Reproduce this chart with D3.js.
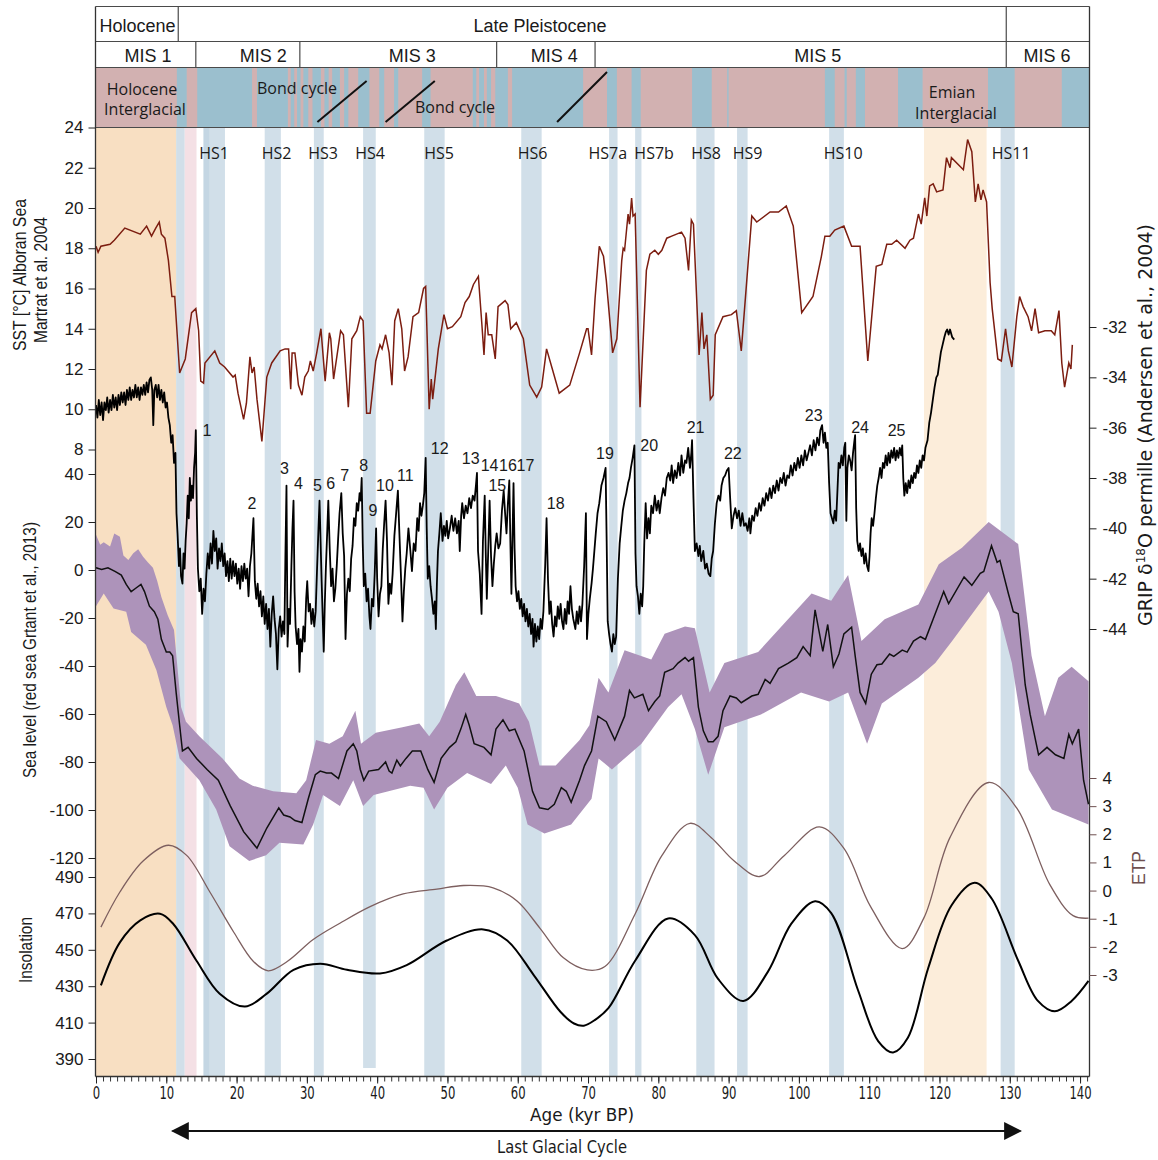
<!DOCTYPE html>
<html>
<head>
<meta charset="utf-8">
<script src="https://cdn.jsdelivr.net/npm/d3@7/dist/d3.min.js"></script>
<style>
  body { margin: 0; background: #fff; }
  svg text { font-family: "Liberation Sans", Arial, sans-serif; fill: #1a1a1a; }
</style>
</head>
<body>
<div id="chart"></div>
<script>
// ---------- data (age in kyr BP) ----------
var epochs = [["Holocene", 0, 11.7], ["Late Pleistocene", 11.7, 129.5], ["", 129.5, 141.3]];
var misStages = [["MIS 1", 0, 14.2, 7.4], ["MIS 2", 14.2, 29, 23.8], ["MIS 3", 29, 57, 45],
  ["MIS 4", 57, 71, 65.2], ["MIS 5", 71, 129.5, 102.7], ["MIS 6", 129.5, 141.3, 135.3]];

// warm (pink) intervals of the top strip, cold background is blue
var stripWarm = [[0, 11.5], [12.9, 14.4], [22.2, 22.9], [27.3, 27.7], [28.2, 28.6], [29.1, 29.5],
  [30.2, 30.8], [32.0, 32.5], [33.1, 33.6], [34.7, 35.3], [35.9, 37.3], [38.9, 40.3], [41.0, 42.4],
  [43.0, 46.4], [47.6, 53.6], [54.1, 54.5], [55.2, 55.6], [56.2, 56.8], [58.6, 59.2], [69.3, 72.7],
  [74.1, 76.2], [77.5, 84.8], [87.6, 89.8], [90.0, 103.7], [105.1, 106.5], [106.8, 108.1],
  [109.4, 114.1], [117.6, 126.9], [130.7, 137.4]];
var bondSlashes = [[31.5, 38.5, 81], [41.2, 48.2, 81], [65.6, 72.7, 72]];

var interglacials = [[0, 11.4, "#f8dfc2"], [117.8, 126.7, "#fcedda"]];
var heinrichBands = [[11.4, 12.6], [15.3, 18.35], [15.3, 16.1], [24.0, 26.3], [31.0, 32.4],
  [38.0, 39.8], [46.7, 49.6], [60.5, 63.4], [73.0, 74.2], [76.7, 77.6], [85.4, 88.0],
  [91.2, 92.7], [104.3, 106.4], [128.7, 130.7]];
var warmBand = [[12.6, 14.3]];
var hsLabels = [["HS1", 16.8], ["HS2", 25.7], ["HS3", 32.3], ["HS4", 39.0], ["HS5", 48.8],
  ["HS6", 62.1], ["HS7a", 72.8], ["HS7b", 79.4], ["HS8", 86.8], ["HS9", 92.7], ["HS10", 106.3],
  ["HS11", 130.2]];
var disLabels = [["1", 15.8, -36.1], ["2", 22.2, -39.0], ["3", 26.8, -37.6], ["4", 28.8, -38.2],
  ["5", 31.5, -38.3], ["6", 33.4, -38.2], ["7", 35.4, -37.9], ["8", 38.1, -37.5], ["9", 39.4, -39.3],
  ["10", 41.1, -38.3], ["11", 44.0, -37.9], ["12", 48.9, -36.8], ["13", 53.3, -37.2], ["14", 56.0, -37.5],
  ["15", 57.1, -38.3], ["16", 58.6, -37.5], ["17", 61.1, -37.5], ["18", 65.4, -39.0], ["19", 72.4, -37.0],
  ["20", 78.7, -36.7], ["21", 85.3, -36.0], ["22", 90.6, -37.0], ["23", 102.1, -35.5], ["24", 108.7, -36.0],
  ["25", 113.9, -36.1]];

// Alboran Sea SST (deg C)
var sst = [[0,18.1],[0.3,17.8],[0.7,18.1],[2.0,18.2],[2.6,18.4],[4.1,19.0],[6.3,18.7],[7.2,19.1],[7.9,18.6],
  [8.5,19.0],[9.0,19.3],[9.3,18.7],[9.8,18.5],[10.3,17.4],[10.8,15.6],[11.2,15.6],[11.9,11.8],[12.7,12.5],
  [13.6,14.8],[14.2,15.0],[14.6,13.9],[14.9,11.4],[15.3,11.3],[15.5,12.3],[16.9,12.9],[17.6,12.3],[18.3,12.1],
  [19.5,11.6],[19.8,11.7],[20.2,10.8],[21.0,9.5],[21.4,10.3],[21.9,12.6],[22.2,11.8],[22.5,12.1],[22.9,10.5],
  [23.6,8.4],[24.3,11.6],[25.0,12.3],[26.2,12.9],[26.9,13.0],[27.4,13.0],[27.7,11.0],[27.9,12.8],[28.3,12.8],
  [28.8,11.2],[29.3,10.7],[29.7,11.6],[30.2,11.9],[30.5,12.4],[30.9,11.9],[31.4,12.8],[32.0,14.0],[32.6,11.4],
  [33.2,13.8],[33.4,13.5],[33.8,11.5],[34.8,13.9],[35.2,13.7],[35.9,10.1],[36.4,13.5],[37.1,13.9],[37.6,14.6],
  [38.0,14.4],[38.5,9.8],[39.0,9.8],[39.8,12.4],[40.4,13.2],[40.7,13.0],[41.2,13.7],[41.7,12.8],[42.1,11.2],
  [42.5,14.4],[43.0,15.0],[43.5,14.0],[43.9,11.9],[44.4,12.6],[45.1,14.6],[45.9,14.8],[46.6,16.0],[46.9,16.1],
  [47.1,13.7],[47.4,10.0],[47.7,11.5],[47.9,10.5],[48.7,13.0],[49.5,14.7],[50.0,14.0],[50.7,14.1],[51.9,14.6],
  [52.5,15.3],[53.1,15.6],[53.7,16.2],[54.4,16.6],[54.9,14.2],[55.2,12.7],[55.5,14.8],[55.8,13.7],[56.3,13.7],
  [56.8,12.5],[57.2,15.1],[58.2,15.4],[58.6,15.2],[59.0,14.0],[59.8,14.3],[60.8,13.5],[61.7,11.2],[62.7,10.6],
  [63.4,11.1],[64.1,13.0],[65.0,11.9],[65.9,10.8],[67.4,11.2],[68.8,12.8],[69.8,14.0],[70.0,14.0],[70.5,12.7],
  [71.0,15.5],[71.6,18.1],[72.2,17.6],[72.6,16.4],[73.5,12.8],[74.1,13.5],[74.8,17.4],[75.0,18.0],[75.2,17.9],
  [75.7,19.7],[75.9,19.2],[76.2,20.5],[76.4,19.6],[76.7,19.7],[77.4,10.1],[78.3,16.9],[78.8,17.7],[79.5,17.9],
  [80.0,17.7],[80.5,17.9],[81.2,18.5],[81.9,18.6],[83.3,18.8],[83.8,18.5],[84.3,16.9],[84.7,19.4],[85.0,19.2],
  [85.8,12.7],[86.2,14.8],[86.5,13.0],[86.9,13.7],[87.4,10.5],[87.8,10.7],[88.1,13.7],[89.2,14.6],[90.4,14.7],
  [91.1,14.9],[91.8,12.9],[93.3,19.6],[94.0,19.3],[95.9,19.8],[97.1,19.8],[98.2,20.1],[99.2,19.1],[100.4,14.8],
  [102.0,15.6],[103.2,17.6],[103.7,18.6],[104.4,18.6],[105.1,18.9],[106.4,19.1],[107.5,18.1],[108.7,18.1],
  [109.8,12.4],[111.0,17.1],[111.8,17.2],[112.5,18.2],[113.2,18.2],[113.9,18.4],[115.1,18.0],[115.8,18.4],
  [116.3,18.5],[117.0,19.7],[117.4,19.2],[117.9,20.5],[118.2,19.6],[118.6,21.1],[119.1,21.2],[119.6,20.8],
  [120.5,20.9],[121.0,22.5],[121.5,22.0],[121.7,22.5],[123.4,21.9],[124.0,23.4],[124.6,22.8],[125.1,20.3],
  [125.5,21.2],[125.9,20.4],[126.2,20.9],[126.7,20.3],[127.2,16.3],[127.5,15.0],[128.3,12.5],[128.8,12.4],
  [129.4,14.0],[129.8,12.9],[130.3,12.1],[131.0,14.6],[131.4,15.6],[131.9,15.1],[132.6,14.6],[133.1,13.9],
  [133.6,15.0],[134.1,13.8],[135.0,13.9],[135.9,13.9],[136.4,13.7],[137.0,14.9],[137.4,12.3],[137.8,11.1],
  [138.4,12.3],[138.7,12.0],[138.9,13.2]];

// GRIP d18O (permille)
var grip = [[0,-35.1],[0.2,-35.6],[0.4,-34.9],[0.6,-35.5],[0.8,-35.0],[1.0,-35.7],[1.2,-35.0],[1.4,-35.3],
  [1.6,-34.8],[1.8,-35.4],[2.0,-34.9],[2.2,-35.3],[2.4,-34.7],[2.6,-35.2],[2.8,-34.8],[3.0,-35.3],[3.2,-34.7],
  [3.4,-35.1],[3.6,-34.6],[3.8,-35.0],[4.0,-34.6],[4.2,-35.1],[4.4,-34.5],[4.6,-34.9],[4.8,-34.4],[5.0,-34.9],
  [5.2,-34.5],[5.4,-34.8],[5.6,-34.3],[5.8,-34.8],[6.0,-34.4],[6.2,-34.9],[6.4,-34.4],[6.6,-34.7],[6.8,-34.3],
  [7.0,-34.7],[7.2,-34.2],[7.4,-34.6],[7.6,-34.1],[7.8,-34.0],[8.0,-34.5],[8.15,-35.9],[8.3,-34.5],[8.5,-34.3],
  [8.7,-34.8],[8.9,-34.3],[9.1,-34.9],[9.3,-34.5],[9.5,-35.0],[9.7,-34.6],[9.9,-35.2],[10.1,-35.0],[10.3,-35.6],
  [10.5,-35.9],[10.7,-36.6],[10.9,-36.3],[11.1,-37.4],[11.3,-37.0],[11.45,-39.4],[11.6,-40.2],[11.8,-41.5],
  [11.95,-40.8],[12.1,-41.9],[12.3,-42.2],[12.45,-41.0],[12.6,-41.6],[12.75,-40.5],[12.9,-39.8],[13.05,-38.7],
  [13.2,-39.6],[13.35,-38.0],[13.5,-38.9],[13.65,-38.3],[13.8,-38.8],[13.95,-37.6],[14.1,-37.0],[14.2,-36.1],
  [14.35,-39.5],[14.5,-41.6],[14.7,-42.5],[14.9,-42.0],[15.1,-43.4],[15.3,-42.4],[15.5,-42.9],[15.7,-41.8],
  [15.9,-41.0],[16.1,-41.6],[16.3,-40.6],[16.5,-41.4],[16.7,-40.1],[16.9,-40.9],[17.1,-40.4],[17.3,-41.6],
  [17.5,-40.8],[17.7,-41.3],[17.9,-40.6],[18.1,-41.5],[18.3,-41.0],[18.5,-41.9],[18.7,-41.3],[18.9,-42.1],
  [19.1,-41.2],[19.3,-42.0],[19.5,-41.3],[19.7,-41.9],[19.9,-41.4],[20.1,-42.2],[20.3,-41.6],[20.5,-42.4],
  [20.7,-41.5],[20.9,-42.1],[21.1,-41.4],[21.3,-42.0],[21.5,-41.6],[21.7,-42.7],[21.9,-41.5],[22.1,-41.0],
  [22.4,-39.6],[22.6,-42.1],[22.8,-42.8],[23.0,-42.2],[23.2,-43.1],[23.4,-42.5],[23.6,-43.5],[23.8,-42.7],
  [24.0,-43.8],[24.2,-43.0],[24.4,-44.0],[24.6,-43.2],[24.8,-44.7],[25.0,-43.4],[25.2,-42.7],[25.4,-43.6],
  [25.6,-44.2],[25.8,-45.6],[26.0,-44.0],[26.2,-43.5],[26.4,-44.3],[26.6,-43.7],[26.8,-44.2],[26.95,-41.0],
  [27.1,-38.3],[27.25,-44.7],[27.45,-43.2],[27.6,-43.8],[27.8,-41.5],[27.95,-40.0],[28.1,-38.9],[28.25,-42.5],
  [28.4,-43.9],[28.6,-44.6],[28.8,-44.0],[28.95,-45.7],[29.1,-44.4],[29.3,-44.9],[29.5,-43.9],[29.7,-44.5],
  [29.9,-42.8],[30.05,-42.1],[30.25,-43.3],[30.45,-43.0],[30.65,-43.8],[30.85,-43.2],[31.05,-43.9],[31.25,-43.3],
  [31.45,-41.6],[31.65,-40.0],[31.8,-38.9],[31.95,-40.5],[32.1,-42.1],[32.25,-43.5],[32.4,-44.9],[32.55,-43.0],
  [32.7,-41.6],[32.9,-40.1],[33.05,-38.9],[33.25,-40.8],[33.45,-42.3],[33.65,-41.6],[33.85,-42.9],[34.05,-42.4],
  [34.25,-41.5],[34.45,-40.4],[34.65,-39.4],[34.9,-38.6],[35.1,-40.2],[35.3,-41.1],[35.5,-44.4],[35.7,-42.6],
  [35.9,-42.0],[36.1,-42.5],[36.3,-41.2],[36.5,-40.7],[36.7,-39.6],[36.9,-39.9],[37.1,-39.0],[37.3,-39.3],
  [37.5,-38.6],[37.65,-38.9],[37.8,-38.0],[37.95,-40.6],[38.1,-42.3],[38.3,-41.8],[38.5,-42.9],[38.7,-42.4],
  [38.9,-43.5],[39.05,-44.0],[39.25,-42.8],[39.45,-43.1],[39.65,-41.8],[39.85,-40.0],[40.0,-42.0],[40.2,-43.5],
  [40.4,-42.6],[40.6,-42.3],[40.8,-40.8],[41.0,-39.8],[41.2,-38.9],[41.4,-40.5],[41.6,-43.0],[41.8,-42.2],
  [42.0,-42.6],[42.2,-41.8],[42.45,-40.3],[42.7,-39.4],[42.95,-38.5],[43.15,-40.1],[43.4,-42.0],[43.6,-43.7],
  [43.8,-42.5],[44.0,-41.6],[44.2,-41.0],[44.45,-40.0],[44.7,-40.8],[44.95,-41.7],[45.2,-40.6],[45.45,-40.9],
  [45.7,-39.6],[45.9,-40.1],[46.1,-39.0],[46.3,-39.5],[46.5,-39.1],[46.7,-38.6],[46.9,-37.2],[47.05,-40.0],
  [47.2,-42.0],[47.4,-41.5],[47.6,-42.3],[47.8,-42.8],[48.0,-43.4],[48.2,-42.9],[48.35,-44.0],[48.5,-42.2],
  [48.65,-40.9],[48.85,-40.2],[49.05,-39.4],[49.3,-40.5],[49.5,-39.9],[49.7,-40.3],[49.9,-39.7],[50.1,-40.4],
  [50.35,-40.0],[50.6,-39.5],[50.85,-40.1],[51.1,-39.6],[51.35,-40.2],[51.6,-39.7],[51.75,-40.9],[51.95,-39.5],
  [52.1,-39.0],[52.35,-39.6],[52.6,-39.1],[52.85,-39.4],[53.1,-38.8],[53.35,-39.2],[53.6,-38.7],[53.85,-38.9],
  [54.05,-38.3],[54.2,-37.8],[54.35,-40.9],[54.6,-41.8],[54.85,-43.4],[55.05,-40.5],[55.3,-38.7],[55.45,-41.0],
  [55.6,-42.8],[55.8,-40.9],[56.0,-38.9],[56.2,-41.1],[56.4,-42.3],[56.6,-41.4],[56.8,-40.7],[57.0,-40.2],
  [57.25,-40.8],[57.5,-40.6],[57.75,-39.3],[58.0,-38.5],[58.2,-39.4],[58.4,-40.2],[58.6,-39.0],[58.8,-38.1],
  [58.95,-40.5],[59.1,-42.6],[59.25,-40.4],[59.4,-38.2],[59.55,-40.8],[59.7,-42.3],[59.9,-42.9],[60.1,-42.5],
  [60.3,-43.2],[60.5,-42.8],[60.7,-43.5],[60.9,-43.0],[61.1,-43.7],[61.3,-43.2],[61.5,-43.9],[61.7,-43.4],
  [61.9,-44.2],[62.1,-43.6],[62.25,-44.7],[62.45,-43.8],[62.65,-44.5],[62.85,-43.9],[63.05,-44.4],[63.25,-43.6],
  [63.45,-44.0],[63.65,-43.3],[63.9,-41.5],[64.1,-39.6],[64.3,-42.0],[64.5,-43.4],[64.7,-42.9],[64.9,-43.8],
  [65.1,-44.3],[65.3,-43.5],[65.5,-43.9],[65.7,-43.1],[65.9,-43.6],[66.1,-43.0],[66.3,-43.7],[66.5,-44.0],
  [66.7,-43.2],[66.9,-43.8],[67.1,-42.9],[67.3,-43.4],[67.5,-42.3],[67.7,-43.2],[67.9,-43.6],[68.2,-44.0],
  [68.4,-43.3],[68.6,-43.8],[68.8,-43.1],[69.0,-43.7],[69.2,-43.0],[69.45,-41.5],[69.7,-39.4],[69.85,-44.4],
  [70.05,-43.4],[70.25,-42.8],[70.5,-42.2],[70.7,-41.6],[70.9,-40.9],[71.1,-40.2],[71.35,-39.4],[71.6,-39.0],
  [71.9,-38.3],[72.2,-38.0],[72.5,-37.6],[72.65,-40.5],[72.8,-43.7],[73.0,-44.2],[73.2,-44.6],[73.4,-44.9],
  [73.6,-44.2],[73.8,-44.6],[74.0,-44.3],[74.25,-42.0],[74.5,-40.6],[74.7,-40.0],[74.95,-39.3],[75.2,-38.9],
  [75.45,-38.6],[75.7,-38.2],[75.9,-38.0],[76.1,-37.6],[76.35,-37.2],[76.6,-36.7],[76.75,-41.0],[76.9,-42.3],
  [77.1,-42.7],[77.3,-43.4],[77.5,-42.6],[77.7,-43.1],[77.85,-42.3],[78.0,-40.6],[78.2,-39.0],[78.4,-40.4],
  [78.6,-39.6],[78.8,-40.2],[79.0,-39.1],[79.25,-39.4],[79.5,-38.7],[79.75,-39.3],[80.0,-38.9],[80.2,-39.4],
  [80.45,-38.8],[80.7,-38.4],[80.95,-38.7],[81.2,-38.0],[81.45,-37.8],[81.7,-38.1],[81.9,-37.5],[82.1,-38.2],
  [82.35,-37.7],[82.6,-38.0],[82.85,-37.4],[83.1,-37.9],[83.3,-37.1],[83.55,-37.8],[83.8,-37.3],[84.0,-37.4],
  [84.25,-36.8],[84.5,-37.6],[84.7,-37.0],[84.8,-36.5],[85.0,-38.8],[85.2,-40.9],[85.45,-40.6],[85.7,-41.1],
  [85.9,-40.7],[86.1,-41.3],[86.4,-40.9],[86.65,-41.6],[86.9,-41.4],[87.15,-41.8],[87.4,-41.9],[87.6,-41.2],
  [87.8,-40.9],[88.05,-39.8],[88.3,-39.0],[88.55,-38.7],[88.8,-38.9],[89.0,-38.3],[89.25,-38.0],[89.5,-37.9],
  [89.75,-37.7],[90.0,-37.6],[90.2,-38.7],[90.45,-40.0],[90.7,-39.5],[90.95,-39.2],[91.2,-39.6],[91.45,-39.3],
  [91.7,-39.9],[91.95,-39.4],[92.2,-39.9],[92.45,-39.8],[92.7,-40.1],[92.95,-39.6],[93.1,-40.2],[93.35,-39.5],
  [93.6,-39.7],[93.85,-39.2],[94.1,-39.5],[94.35,-39.0],[94.6,-39.3],[94.85,-38.8],[95.1,-39.1],[95.35,-38.6],
  [95.6,-38.9],[95.85,-38.4],[96.1,-38.8],[96.35,-38.3],[96.6,-38.6],[96.85,-38.1],[97.1,-38.5],[97.35,-38.0],
  [97.6,-38.2],[97.85,-37.8],[98.1,-38.3],[98.35,-37.9],[98.6,-38.0],[98.85,-37.5],[99.1,-37.9],[99.35,-37.4],
  [99.6,-37.7],[99.85,-37.2],[100.1,-37.6],[100.35,-37.1],[100.6,-37.5],[100.85,-36.9],[101.1,-37.3],
  [101.35,-37.0],[101.6,-36.7],[101.85,-37.1],[102.1,-36.5],[102.35,-36.9],[102.6,-36.4],[102.85,-36.7],
  [103.05,-36.1],[103.3,-35.9],[103.5,-36.6],[103.7,-36.2],[103.9,-36.8],[104.1,-36.6],[104.3,-38.2],
  [104.5,-39.4],[104.7,-39.6],[104.9,-39.8],[105.1,-39.3],[105.3,-39.7],[105.5,-38.4],[105.65,-37.4],
  [105.85,-37.6],[106.05,-37.1],[106.25,-37.5],[106.45,-36.8],[106.6,-36.6],[106.75,-39.7],[106.9,-37.6],
  [107.1,-37.1],[107.3,-37.3],[107.5,-37.7],[107.7,-37.0],[107.9,-36.5],[108.0,-36.3],[108.15,-39.2],
  [108.3,-40.5],[108.5,-40.9],[108.7,-40.6],[108.9,-41.1],[109.1,-40.8],[109.3,-41.4],[109.5,-41.0],
  [109.7,-41.5],[109.9,-41.7],[110.05,-41.1],[110.2,-40.2],[110.35,-39.6],[110.55,-39.9],[110.75,-39.4],
  [110.95,-38.8],[111.15,-38.3],[111.35,-38.0],[111.55,-37.6],[111.75,-38.0],[111.95,-37.4],[112.15,-37.6],
  [112.35,-37.1],[112.55,-37.5],[112.75,-37.0],[112.95,-37.4],[113.15,-36.9],[113.35,-37.2],[113.55,-36.8],
  [113.75,-37.3],[113.95,-36.9],[114.15,-37.2],[114.35,-36.8],[114.55,-37.1],[114.7,-36.7],[114.85,-38.0],
  [115.0,-38.7],[115.2,-38.2],[115.4,-38.6],[115.6,-38.1],[115.8,-38.4],[116.0,-37.9],[116.2,-38.2],
  [116.4,-37.8],[116.6,-38.0],[116.8,-37.5],[117.0,-37.8],[117.2,-37.3],[117.4,-37.6],[117.6,-37.1],
  [117.8,-37.3],[118.0,-36.8],[118.3,-36.5],[118.55,-35.8],[118.8,-35.4],[119.05,-34.9],[119.3,-34.4],
  [119.55,-34.0],[119.75,-33.9],[120.0,-33.4],[120.2,-33.0],[120.45,-32.7],[120.7,-32.4],[120.9,-32.2],
  [121.1,-32.1],[121.3,-32.3],[121.5,-32.1],[121.8,-32.4],[122.1,-32.5]];

// Red Sea relative sea level (m): mean, upper and lower bounds
var seaMean = [[0,0.9],[0.8,0.2],[1.7,0.9],[2.7,-0.6],[3.6,-2.1],[4.3,-6.0],[5.0,-9.0],[5.7,-7.5],[6.4,-6.0],
  [6.9,-9.0],[7.6,-15.1],[8.3,-17.4],[8.8,-20.5],[9.3,-28.9],[10.0,-34.2],[10.5,-34.2],[10.9,-35.7],[11.4,-51.0],
  [11.9,-64.7],[12.3,-75.4],[13.1,-73.9],[14.3,-78.5],[15.8,-83.1],[17.4,-87.6],[19.1,-98.3],[21.0,-109.0],
  [22.9,-115.9],[24.3,-107.5],[26.0,-99.1],[26.7,-102.1],[27.6,-102.9],[28.3,-104.4],[29.3,-105.2],[30.2,-95.3],
  [31.2,-85.3],[31.9,-83.8],[32.8,-84.6],[33.5,-84.6],[34.5,-86.9],[35.7,-75.4],[36.6,-72.4],[37.1,-75.4],
  [37.6,-83.1],[38.1,-87.6],[38.8,-83.8],[40.2,-83.1],[41.2,-80.0],[41.7,-83.8],[42.1,-84.6],[42.8,-79.2],
  [43.3,-81.6],[44.1,-78.5],[45.0,-75.4],[46.2,-75.4],[47.2,-83.1],[48.1,-88.5],[49.1,-78.5],[50.3,-73.9],
  [51.2,-71.6],[51.9,-66.3],[52.6,-60.2],[53.1,-64.7],[53.8,-72.4],[55.2,-73.9],[56.2,-77.0],[56.9,-66.3],
  [57.9,-62.4],[58.8,-67.0],[59.6,-66.3],[60.9,-75.4],[62.1,-92.2],[63.1,-99.1],[64.3,-99.8],[65.2,-97.6],
  [66.2,-90.7],[66.9,-92.2],[67.6,-96.8],[68.8,-87.6],[69.5,-81.5],[70.5,-75.4],[71.4,-60.9],[72.6,-63.2],
  [73.8,-70.8],[75.2,-60.9],[75.9,-50.2],[76.6,-53.3],[77.8,-51.8],[78.6,-58.6],[79.5,-54.8],[80.2,-52.5],
  [80.9,-42.6],[82.1,-41.1],[82.8,-38.8],[83.8,-36.5],[84.3,-38.0],[85.0,-36.5],[85.7,-57.1],[86.4,-67.0],
  [87.1,-71.6],[87.8,-71.6],[88.5,-69.3],[89.2,-58.6],[90.2,-52.5],[91.1,-53.3],[91.8,-55.3],[93.3,-52.5],
  [94.2,-51.8],[95.2,-45.6],[95.9,-47.2],[97.1,-41.1],[98.5,-38.8],[99.7,-36.5],[100.6,-31.9],[101.6,-35.7],
  [102.3,-16.6],[103.4,-33.9],[104.1,-22.7],[104.9,-40.3],[105.7,-35.0],[106.4,-26.6],[107.5,-23.8],
  [108.0,-35.7],[108.7,-51.0],[109.5,-55.6],[110.3,-43.4],[111.1,-39.5],[111.8,-39.2],[112.9,-35.0],
  [113.5,-36.0],[114.7,-33.4],[115.4,-34.2],[116.3,-29.6],[117.3,-27.8],[118.0,-28.9],[119.2,-19.7],
  [120.6,-9.0],[121.3,-14.0],[123.5,-2.9],[124.6,-6.4],[125.8,-1.4],[126.3,-0.6],[127.4,10.1],[128.2,3.2],
  [128.6,4.0],[129.8,-9.8],[130.5,-17.4],[131.2,-18.2],[132.2,-47.9],[132.9,-60.2],[134.1,-77.0],
  [135.3,-73.9],[136.5,-77.0],[137.7,-78.5],[138.4,-68.5],[138.9,-72.4],[139.8,-66.3],[140.5,-87.6],
  [141.2,-97.6]];
var seaUpper = [[0,14.7],[0.6,10.5],[1.1,11.6],[2.0,9.8],[2.6,15.2],[3.4,13.9],[3.9,6.0],[4.6,4.2],[5.3,7.0],
  [6.0,8.6],[6.7,5.5],[7.4,3.1],[8.1,0.9],[8.7,-4.5],[9.3,-11.3],[10.2,-18.9],[11.1,-25.0],[12.1,-57.1],
  [12.8,-63.2],[14.7,-69.3],[18.0,-78.5],[20.4,-86.9],[22.3,-89.9],[25.2,-92.2],[28.5,-93.0],[29.9,-87.6],
  [31.3,-70.8],[33.2,-72.4],[35.1,-69.3],[36.9,-58.6],[37.7,-72.4],[39.8,-67.8],[43.6,-65.5],[46.0,-64.0],
  [47.4,-69.3],[48.9,-63.2],[51.2,-47.9],[52.4,-42.6],[54.1,-52.5],[56.9,-52.5],[60.2,-55.6],[61.6,-63.2],
  [63.1,-81.5],[65.4,-81.5],[68.8,-70.8],[70.2,-64.7],[71.5,-44.9],[72.9,-51.0],[75.2,-33.4],[79.0,-37.3],
  [80.9,-26.6],[83.8,-23.5],[85.2,-24.3],[87.3,-51.0],[89.4,-38.8],[94.2,-34.2],[98.0,-22.0],[101.8,-9.8],
  [104.6,-12.8],[107.0,-2.1],[108.9,-29.6],[112.2,-20.5],[117.0,-14.4],[119.9,2.4],[123.2,9.3],[127.0,20.0],
  [131.2,10.8],[133.1,-35.7],[135.0,-60.9],[136.9,-44.9],[138.8,-40.3],[141.2,-46.4]];
var seaLower = [[0,-15.1],[1.1,-9.8],[2.5,-16.0],[4.3,-17.4],[5.0,-25.8],[7.1,-31.1],[8.6,-41.8],[10.0,-57.1],
  [10.9,-64.7],[11.9,-78.5],[14.7,-87.6],[17.1,-99.8],[19.0,-115.1],[21.8,-121.2],[24.2,-118.9],[26.1,-113.6],
  [29.5,-114.4],[30.9,-106.0],[32.3,-93.7],[34.7,-98.3],[36.6,-87.6],[38.0,-98.3],[39.5,-93.7],[44.7,-89.9],
  [46.6,-90.7],[48.1,-99.8],[50.0,-90.7],[52.8,-84.6],[56.2,-89.2],[58.3,-81.5],[60.0,-90.7],[61.4,-106.0],
  [63.8,-109.8],[67.6,-106.0],[70.5,-95.3],[71.5,-78.5],[73.4,-83.1],[77.6,-72.4],[81.4,-57.1],[83.3,-51.8],
  [85.2,-66.3],[87.1,-85.3],[89.4,-65.5],[94.6,-60.2],[100.3,-51.0],[104.3,-54.8],[107.0,-51.0],
  [109.7,-72.4],[111.8,-55.6],[117.0,-44.9],[119.4,-38.8],[121.8,-29.6],[127.0,-9.0],[128.4,-17.4],
  [130.3,-38.8],[132.7,-83.1],[136.0,-99.8],[141.2,-106.0]];

// summer insolation (W/m2) and ETP index
var insolation = [[0.7,430.5],[3.4,454.1],[6.3,466.2],[9.1,469.8],[11.0,464.2],[14.3,444.0],[17.6,425.9],
  [21.2,418.8],[24.3,425.9],[28.1,439.0],[31.9,442.4],[35.7,439.0],[40.4,437.0],[44.2,441.6],[49.9,455.1],
  [55.1,461.2],[58.5,455.1],[62.3,436.0],[66.1,415.8],[68.0,409.5],[69.4,408.3],[71.0,411.5],[72.9,417.9],
  [76.7,444.0],[81.4,467.2],[85.2,458.1],[88.5,434.0],[92.1,421.9],[95.6,438.0],[98.9,464.2],[102.3,476.7],
  [104.6,470.2],[108.4,427.9],[111.3,399.7],[113.4,393.6],[115.5,401.7],[118.4,440.0],[121.7,474.3],
  [125.0,486.8],[127.4,478.3],[131.2,444.0],[134.0,421.9],[136.4,416.2],[138.8,421.9],[141.2,432.9]];
var etp = [[0.7,-1.3],[3.4,-0.05],[6.7,1.05],[10.3,1.61],[12.9,1.25],[16.2,-0.05],[19.6,-1.48],[22.4,-2.52],
  [24.5,-2.85],[27.2,-2.52],[30.9,-1.74],[34.7,-1.16],[39.0,-0.57],[43.7,-0.12],[48.5,0.05],[52.3,0.18],
  [56.5,0.10],[59.9,-0.37],[63.2,-1.35],[66.5,-2.39],[69.9,-2.82],[72.4,-2.7],[76.7,-0.83],[80.5,1.24],
  [84.5,2.39],[87.5,1.89],[90.8,1.05],[94.4,0.5],[97.9,1.24],[102.9,2.26],[106.4,1.5],[110.2,-0.57],
  [114.7,-2.06],[117.8,-0.96],[121.5,1.89],[127.0,3.84],[131.0,2.93],[135.7,0.21],[139.0,-0.89],[141.2,-0.98]];

// tick values
var ageTicks = [0, 10, 20, 30, 40, 50, 60, 70, 80, 90, 100, 110, 120, 130, 140];
var sstTicks = [8, 10, 12, 14, 16, 18, 20, 22, 24];
var seaTicks = [-120, -100, -80, -60, -40, -20, 0, 20, 40];
var insTicks = [390, 410, 430, 450, 470, 490];
var gripTicks = [-44, -42, -40, -38, -36, -34, -32];
var etpTicks = [-3, -2, -1, 0, 1, 2, 3, 4];

// ---------- chart ----------
var W = 1158, H = 1160;
var pL = 95.5, pR = 1089.5, stripTop = 67.5, pT = 127.5, pB = 1076.5, headTop = 6.5;

var svg = d3.select("#chart").append("svg").attr("width", W).attr("height", H);

var x = d3.scaleLinear().domain([0, 141.3]).range([96, 1089.2]);
var ySST = d3.scaleLinear().domain([8, 24]).range([449.5, 127.5]);
var ySea = d3.scaleLinear().domain([-120, 40]).range([858, 474]);
var yIns = d3.scaleLinear().domain([390, 490]).range([1059, 877]);
var yGrip = d3.scaleLinear().domain([-44, -32]).range([629, 327]);
var yEtp = d3.scaleLinear().domain([-3, 4]).range([975, 778]);

function x0(a) { return a === 0 ? pL : x(a); }

// interglacial and stadial bands
svg.selectAll("rect.ig").data(interglacials).enter().append("rect")
  .attr("x", d => x0(d[0])).attr("y", pT)
  .attr("width", d => x(d[1]) - x0(d[0])).attr("height", pB - pT)
  .attr("fill", d => d[2]);
svg.selectAll("rect.ba").data(warmBand).enter().append("rect")
  .attr("x", d => x(d[0])).attr("y", pT).attr("width", d => x(d[1]) - x(d[0]))
  .attr("height", pB - pT).attr("fill", "#f4e0e5");
svg.selectAll("rect.hs").data(heinrichBands).enter().append("rect")
  .attr("x", d => x(d[0])).attr("y", pT).attr("width", d => x(d[1]) - x(d[0]))
  .attr("height", d => (d[0] === 38.0 ? 1068 : pB) - pT)
  .attr("fill", "#bfd3e0").attr("opacity", 0.72);

// sea level envelope
var seaLine = d3.line().x(d => x(d[0])).y(d => ySea(d[1]));
var envelope = seaUpper.concat(seaLower.slice().reverse());
svg.append("path").attr("d", seaLine(envelope) + "Z").attr("fill", "#ad93ba");
svg.append("path").datum(seaMean).attr("d", seaLine).attr("fill", "none")
  .attr("stroke", "#111").attr("stroke-width", 1.5);

// SST
svg.append("path").datum(sst)
  .attr("d", d3.line().x(d => x(d[0])).y(d => ySST(d[1])))
  .attr("fill", "none").attr("stroke", "#7c1d10").attr("stroke-width", 1.5);

// GRIP
svg.append("path").datum(grip)
  .attr("d", d3.line().x(d => x(d[0])).y(d => yGrip(d[1])))
  .attr("fill", "none").attr("stroke", "#000").attr("stroke-width", 1.8).attr("stroke-linejoin", "round");

// ETP and insolation
svg.append("path").datum(etp)
  .attr("d", d3.line().curve(d3.curveCatmullRom.alpha(0.5)).x(d => x(d[0])).y(d => yEtp(d[1])))
  .attr("fill", "none").attr("stroke", "#7d5f5f").attr("stroke-width", 1.3);
svg.append("path").datum(insolation)
  .attr("d", d3.line().curve(d3.curveCatmullRom.alpha(0.5)).x(d => x(d[0])).y(d => yIns(d[1])))
  .attr("fill", "none").attr("stroke", "#000").attr("stroke-width", 2);

// labels in plot
svg.selectAll("text.hs").data(hsLabels).enter().append("text")
  .attr("x", d => x(d[1])).attr("y", 159).attr("text-anchor", "middle")
  .style("font-family", "'Open Sans', sans-serif").style("font-size", "16px").text(d => d[0]);
svg.selectAll("text.dis").data(disLabels).enter().append("text")
  .attr("x", d => x(d[1])).attr("y", d => yGrip(d[2])).attr("dy", "0.36em").attr("text-anchor", "middle")
  .style("font-size", "16px").text(d => d[0]);

// ---------- header ----------
svg.append("rect").attr("x", pL).attr("y", stripTop).attr("width", pR - pL)
  .attr("height", pT - stripTop).attr("fill", "#9bbfce");
svg.selectAll("rect.sw").data(stripWarm).enter().append("rect")
  .attr("x", d => x0(d[0])).attr("y", stripTop)
  .attr("width", d => x(d[1]) - x0(d[0])).attr("height", pT - stripTop)
  .attr("fill", "#d2b1b1");
svg.selectAll("line.slash").data(bondSlashes).enter().append("line")
  .attr("x1", d => x(d[0])).attr("y1", 122).attr("x2", d => x(d[1])).attr("y2", d => d[2])
  .attr("stroke", "#111").attr("stroke-width", 2);

var stripText = [["Holocene", 142, 95], ["Interglacial", 145, 115], ["Emian", 952, 98], ["Interglacial", 956, 119]];
svg.selectAll("text.st").data(stripText).enter().append("text")
  .attr("x", d => d[1]).attr("y", d => d[2]).attr("text-anchor", "middle")
  .style("font-family", "'Open Sans', sans-serif").style("font-size", "16px").text(d => d[0]);
svg.append("text").attr("x", 257).attr("y", 94).style("font-family", "'Open Sans', sans-serif")
  .style("font-size", "16px").text("Bond cycle");
svg.append("text").attr("x", 415).attr("y", 113).style("font-family", "'Open Sans', sans-serif")
  .style("font-size", "16px").text("Bond cycle");

// header grid
var grid = svg.append("g").attr("stroke", "#4a4a4a").attr("stroke-width", 1.2).attr("fill", "none");
[headTop, 41.5, stripTop, pT].forEach(function (yy) {
  grid.append("line").attr("x1", pL).attr("x2", pR).attr("y1", yy).attr("y2", yy);
});
epochs.slice(1).forEach(function (e) {
  grid.append("line").attr("x1", x(e[1])).attr("x2", x(e[1])).attr("y1", headTop).attr("y2", 41.5);
});
misStages.slice(1).forEach(function (m) {
  grid.append("line").attr("x1", x(m[1])).attr("x2", x(m[1])).attr("y1", 41.5).attr("y2", stripTop);
});
svg.append("text").attr("x", pL + 4).attr("y", 32).style("font-size", "18px").text(epochs[0][0]);
svg.append("text").attr("x", 540).attr("y", 32).attr("text-anchor", "middle").style("font-size", "18px").text(epochs[1][0]);
svg.selectAll("text.mis").data(misStages).enter().append("text")
  .attr("x", d => x(d[3])).attr("y", 61.5).attr("text-anchor", "middle").style("font-size", "18px").text(d => d[0]);

// ---------- frame ----------
svg.append("line").attr("x1", pL).attr("x2", pL).attr("y1", headTop).attr("y2", pB)
  .attr("stroke", "#333").attr("stroke-width", 1.3);
svg.append("line").attr("x1", pR).attr("x2", pR).attr("y1", headTop).attr("y2", pB)
  .attr("stroke", "#333").attr("stroke-width", 1.3);
svg.append("line").attr("x1", pL).attr("x2", pR).attr("y1", pB).attr("y2", pB)
  .attr("stroke", "#333").attr("stroke-width", 1.3);

// ---------- axes ----------
function styleAxis(g, color, size, family) {
  g.select(".domain").remove();
  g.selectAll("line").attr("stroke", color);
  g.selectAll("text").attr("fill", color).style("font-size", size + "px")
    .style("font-family", family || "'Liberation Sans', Arial, sans-serif");
}
function fmt(d) { return String(d); }

[[ySST, sstTicks], [ySea, seaTicks], [yIns, insTicks]].forEach(function (a) {
  var g = svg.append("g").attr("transform", "translate(" + pL + ",0)")
    .call(d3.axisLeft(a[0]).tickValues(a[1]).tickSize(7).tickPadding(5).tickFormat(fmt));
  styleAxis(g, "#222", 17);
});
var gG = svg.append("g").attr("transform", "translate(" + pR + ",0)")
  .call(d3.axisRight(yGrip).tickValues(gripTicks).tickSize(7).tickPadding(6).tickFormat(fmt));
styleAxis(gG, "#222", 17);
var gE = svg.append("g").attr("transform", "translate(" + pR + ",0)")
  .call(d3.axisRight(yEtp).tickValues(etpTicks).tickSize(7).tickPadding(6).tickFormat(fmt));
styleAxis(gE, "#6e5050", 17);

var narrow = "'Liberation Sans Narrow', 'DejaVu Sans Condensed', 'Arial Narrow', sans-serif";
var gMinor = svg.append("g").attr("transform", "translate(0," + pB + ")")
  .call(d3.axisBottom(x).tickValues(d3.range(0, 142, 1)).tickSize(5).tickFormat(""));
styleAxis(gMinor, "#333", 10);
var gX = svg.append("g").attr("transform", "translate(0," + pB + ")")
  .call(d3.axisBottom(x).tickValues(ageTicks).tickSize(7).tickPadding(3).tickFormat(fmt));
styleAxis(gX, "#222", 17, narrow);
gX.selectAll("text").attr("textLength", d => String(d).length * 7.4).attr("lengthAdjust", "spacingAndGlyphs");

// axis titles
function vTitle(txt, cx, cy, size, len, color, family) {
  svg.append("text").attr("transform", "translate(" + cx + "," + cy + ") rotate(-90)")
    .attr("text-anchor", "middle").attr("dy", "0.35em")
    .attr("textLength", len).attr("lengthAdjust", "spacingAndGlyphs")
    .style("font-size", size + "px").style("font-family", family || "'Liberation Sans', Arial, sans-serif")
    .style("fill", color || "#1a1a1a").text(txt);
}
vTitle("SST [°C] Alboran Sea", 19, 275, 19, 152);
vTitle("Martrat et al.  2004", 40, 280, 19, 126);
vTitle("Sea level (red sea Grtant et al., 2013)", 30, 650, 18, 256);
vTitle("Insolation", 25, 950, 19, 66);
svg.append("text").attr("transform", "translate(1145,425) rotate(-90)").attr("text-anchor", "middle")
  .attr("dy", "0.35em").style("font-size", "19px").style("font-family", "'DejaVu Sans', sans-serif")
  .html("GRIP δ<tspan baseline-shift='super' font-size='12px'>18</tspan>O permille (Andersen et al., 2004)");
vTitle("ETP", 1138, 868, 19, 34, "#6e5050");

svg.append("text").attr("x", 582).attr("y", 1121).attr("text-anchor", "middle")
  .attr("textLength", 104).attr("lengthAdjust", "spacingAndGlyphs")
  .style("font-size", "18px").style("font-family", narrow).text("Age (kyr BP)");

// last glacial cycle arrow
var cycle = [10.9, 131.5];
svg.append("defs").html(
  "<marker id='ah' viewBox='0 0 10 10' refX='9' refY='5' markerWidth='9' markerHeight='9' orient='auto-start-reverse'>" +
  "<path d='M0,0 L10,5 L0,10 z' fill='#111'/></marker>");
svg.append("line").attr("x1", x(cycle[0])).attr("x2", x(cycle[1])).attr("y1", 1131).attr("y2", 1131)
  .attr("stroke", "#111").attr("stroke-width", 2)
  .attr("marker-start", "url(#ah)").attr("marker-end", "url(#ah)");
svg.append("text").attr("x", 562).attr("y", 1153).attr("text-anchor", "middle")
  .attr("textLength", 130).attr("lengthAdjust", "spacingAndGlyphs")
  .style("font-size", "18px").style("font-family", narrow).text("Last Glacial Cycle");
</script>
</body>
</html>
